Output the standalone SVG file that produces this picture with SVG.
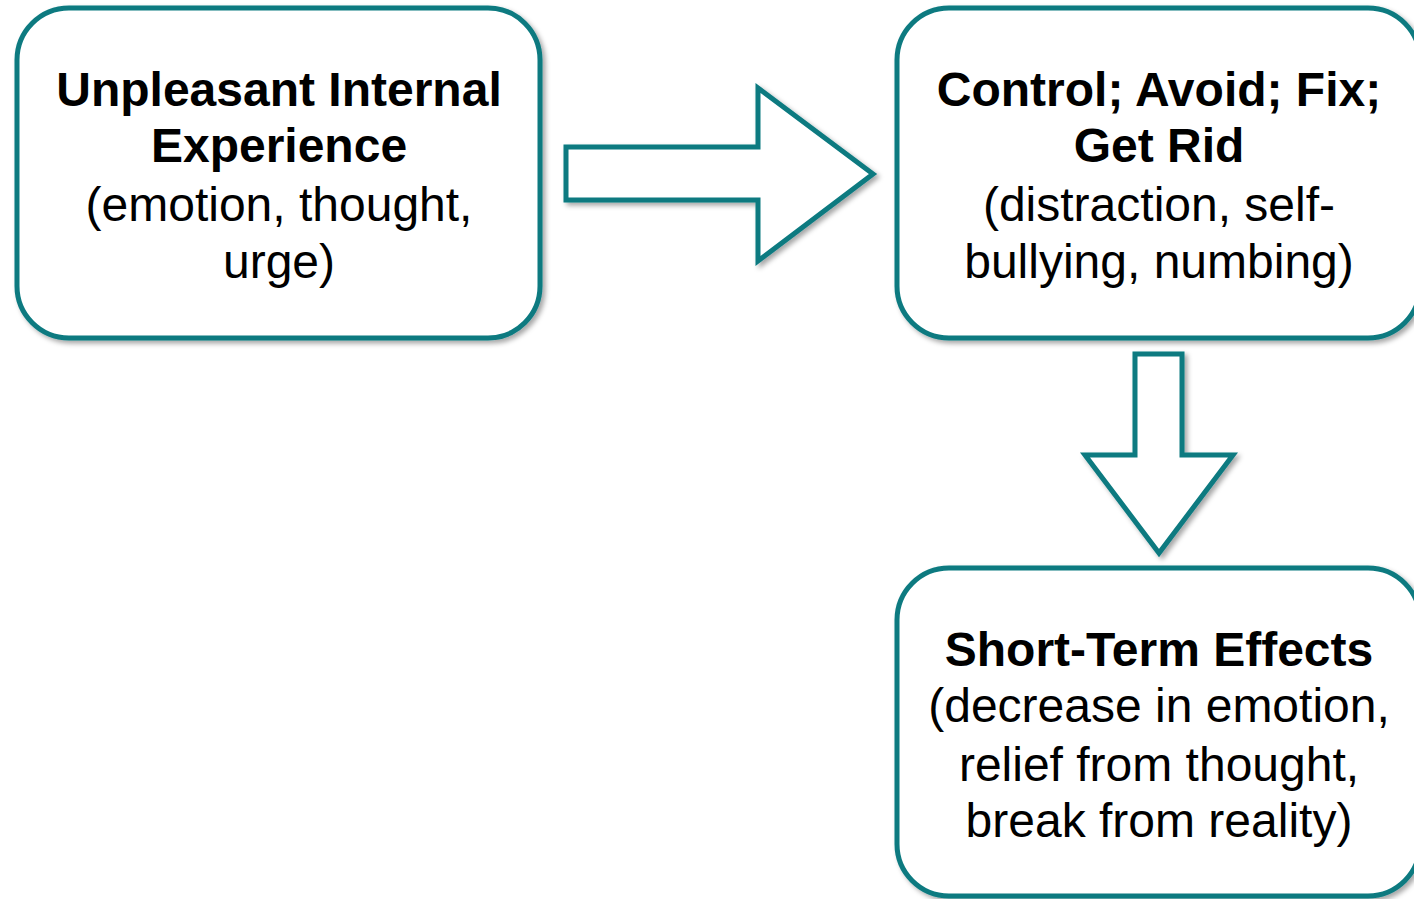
<svg xmlns="http://www.w3.org/2000/svg" width="1414" height="899" viewBox="0 0 1414 899">
  <style>
    .box { fill: #ffffff; stroke: #0b7a80; stroke-width: 5; filter: url(#shadow); }
    .arrow { fill: #ffffff; stroke: #0b7a80; stroke-width: 5; stroke-linejoin: miter; filter: url(#shadow); }
    text { font-family: "Liberation Sans", Arial, sans-serif; font-size: 48px; fill: #000000; text-anchor: middle; }
    .b { font-weight: bold; }
  </style>
  <defs>
    <filter id="shadow" x="-10%" y="-10%" width="125%" height="125%">
      <feDropShadow dx="3" dy="3" stdDeviation="2.5" flood-color="#000000" flood-opacity="0.35"/>
    </filter>
  </defs>

  <g id="connectors">
    <polygon class="arrow" points="566,147 758,147 758,88 873,174 758,261 758,200 566,200"/>
    <polygon class="arrow" points="1135,354 1182,354 1182,455 1233,455 1159,553 1085,455 1135,455"/>
  </g>

  <g id="node-experience">
    <rect class="box" x="17" y="8" width="523" height="330" rx="52" ry="52"/>
    <text class="b" x="279" y="106">Unpleasant Internal</text>
    <text class="b" x="279" y="162">Experience</text>
    <text x="279" y="221">(emotion, thought,</text>
    <text x="279" y="278">urge)</text>
  </g>

  <g id="node-control">
    <rect class="box" x="897" y="8" width="523" height="330" rx="52" ry="52"/>
    <text class="b" x="1159" y="106">Control; Avoid; Fix;</text>
    <text class="b" x="1159" y="162">Get Rid</text>
    <text x="1159" y="221">(distraction, self-</text>
    <text x="1159" y="278">bullying, numbing)</text>
  </g>

  <g id="node-effects">
    <rect class="box" x="897" y="568" width="523" height="328" rx="52" ry="52"/>
    <text class="b" x="1159" y="666">Short-Term Effects</text>
    <text x="1159" y="722">(decrease in emotion,</text>
    <text x="1159" y="781">relief from thought,</text>
    <text x="1159" y="837">break from reality)</text>
  </g>
</svg>
